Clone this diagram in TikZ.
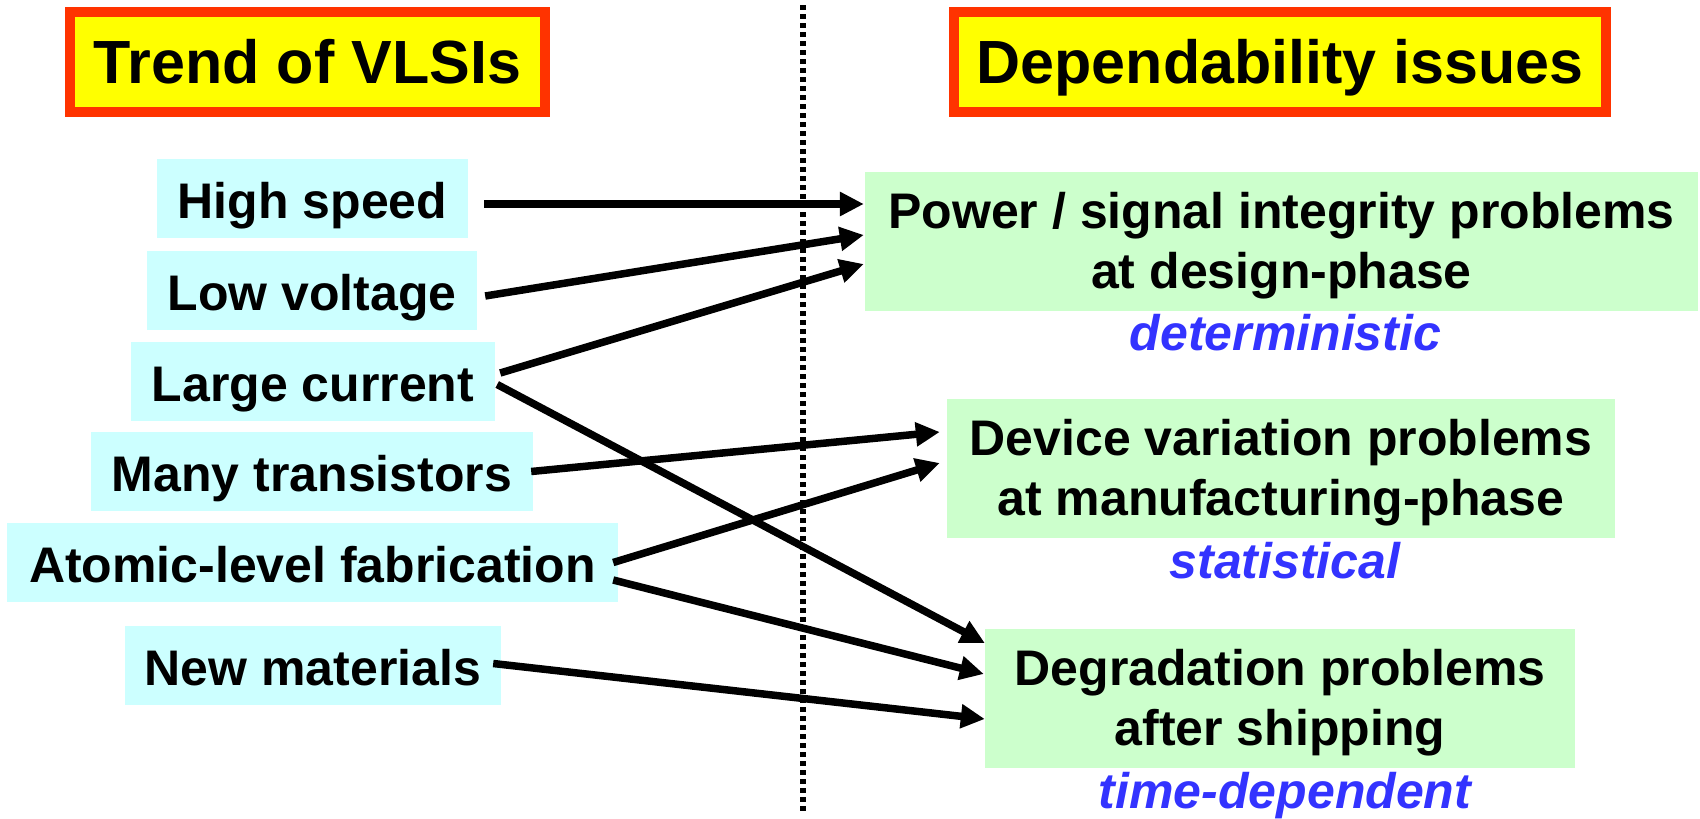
\documentclass[tikz,border=0pt]{standalone}
\usepackage{fontspec}
\setmainfont{Liberation Sans}
\usetikzlibrary{arrows.meta,calc}
\definecolor{cyanbox}{HTML}{CCFFFF}
\definecolor{greenbox}{HTML}{CCFFCC}
\definecolor{bluetxt}{HTML}{3333FF}
\definecolor{redframe}{HTML}{FF3300}
\definecolor{yellowfill}{HTML}{FFFF00}
\begin{document}
\begin{tikzpicture}[x=1pt,y=-1pt,
  src/.style={fill=cyanbox, inner sep=0pt, minimum height=79pt,
    text height=40pt, text depth=0pt,
    font=\fontsize{50}{60}\selectfont\bfseries},
  dst/.style={fill=greenbox, inner sep=0pt, minimum height=139pt, align=center,
    text height=100pt, text depth=6pt,
    font=\fontsize{50}{60}\selectfont\bfseries},
  tag/.style={text=bluetxt, anchor=base, inner sep=0pt,
    font=\fontsize{50}{60}\selectfont\bfseries\itshape},
  titlebox/.style={draw=redframe, line width=10pt, fill=yellowfill, inner sep=0pt,
    minimum height=100pt, text height=43pt, text depth=0pt,
    font=\fontsize{61}{72}\selectfont\bfseries},
  conn/.style={line width=7.5pt, -{Triangle[length=24pt,width=23pt]}},
  dotline/.style={line width=6pt, dash pattern=on 5pt off 4pt}
]
\useasboundingbox (0,0) rectangle (1700,819);

% titles
\node[titlebox, minimum width=475pt] (t1) at (307.5,62) {Trend of VLSIs};
\node[titlebox, minimum width=652pt] (t2) at (1280,62) {Dependability issues};

% divider
\coordinate (dtop) at (803,5);
\coordinate (dbot) at (803,813);
\draw[dotline] (dtop) -- (dbot);

% left nodes
\node[src, minimum width=311pt] (hs) at (312.5,198) {High speed};
\node[src, minimum width=330pt] (lv) at (312,290.5) {Low voltage};
\node[src, minimum width=364pt] (lc) at (313,381.5) {Large current};
\node[src, minimum width=442pt] (mt) at (312,471.5) {Many transistors};
\node[src, minimum width=611pt] (al) at (312.5,562.5) {Atomic-level fabrication};
\node[src, minimum width=376pt] (nm) at (313,665.5) {New materials};

% right nodes
\node[dst, minimum width=833pt] (pw) at (1281.5,241) {Power / signal integrity problems\\at design-phase};
\node[dst, minimum width=668pt] (dv) at (1281,468.5) {Device variation problems\\at manufacturing-phase};
\node[dst, minimum width=590pt] (dg) at (1280,698.5) {Degradation problems\\after shipping};

% tags
\node[tag] (detlab) at ($(pw.south)+(4,40)$) {deterministic};
\node[tag] (statlab) at ($(dv.south)+(4,40)$) {statistical};
\node[tag] (timelab) at ($(dg.south)+(5,40)$) {time-dependent};

% connectors
\draw[conn] ($(hs.east)+(16,6)$) -- ($(pw.west)+(-1,-37)$);
\draw[conn] ($(lv.east)+(8,5.5)$) -- ($(pw.west)+(-1,-6)$);
\draw[conn] ($(lc.east)+(5,-8.5)$) -- ($(pw.west)+(-1,23)$);
\draw[conn] ($(lc.east)+(2,3)$) -- ($(dg.west)+(0,-55.5)$);
\draw[conn] ($(mt.east)+(-2,0)$) -- ($(dv.west)+(-7,-36.5)$);
\draw[conn] ($(al.east)+(-5,0)$) -- ($(dv.west)+(-7,-5.5)$);
\draw[conn] ($(al.east)+(-5,17.5)$) -- ($(dg.west)+(-1,-24.5)$);
\draw[conn] ($(nm.east)+(-8,-2)$) -- ($(dg.west)+(0,20.5)$);
\end{tikzpicture}
\end{document}
